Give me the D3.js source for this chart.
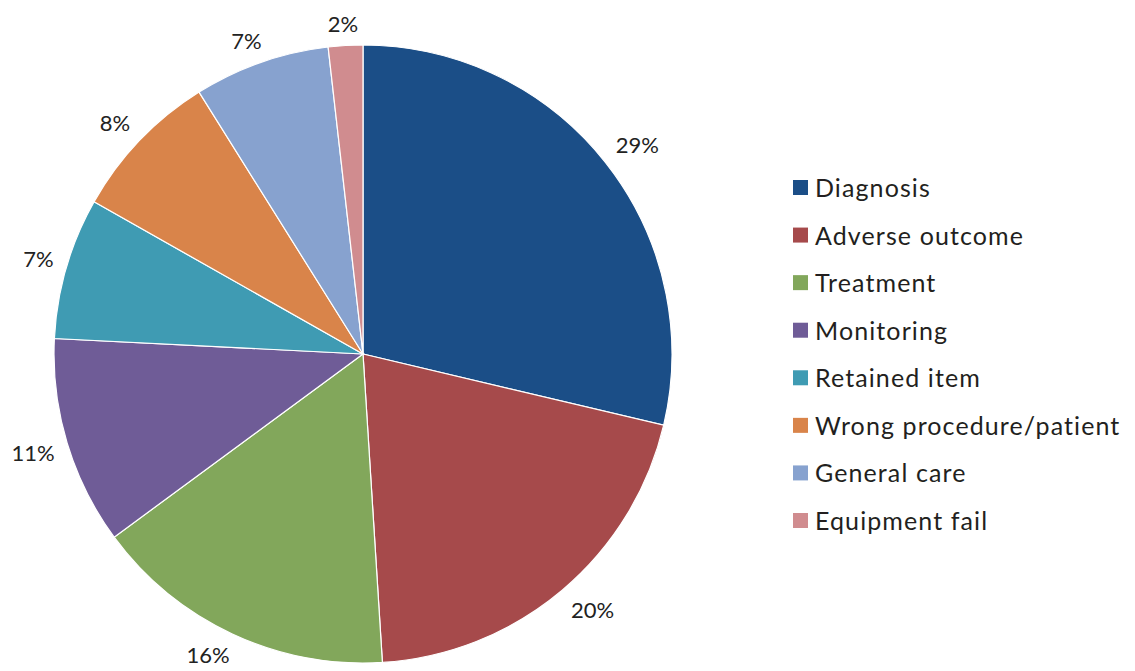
<!DOCTYPE html>
<html>
<head>
<meta charset="utf-8">
<script src="https://cdn.jsdelivr.net/npm/d3@7"></script>
<style>
  html, body { margin: 0; padding: 0; background: #fff; }
  svg { display: block; }
</style>
</head>
<body>
<svg id="chart" width="1135" height="671"></svg>
<script>
const categories = ["Diagnosis", "Adverse outcome", "Treatment", "Monitoring", "Retained item", "Wrong procedure/patient", "General care", "Equipment fail"];
const values = [28.7, 20.3, 15.9, 10.9, 7.4, 7.9, 7.1, 1.8];
const colors = ["#1B4E87", "#A64A4B", "#82A75B", "#6F5C97", "#3F9BB3", "#D9844A", "#87A2CF", "#D08C8F"];

const svg = d3.select("#chart");
const cx = 363, cy = 354, r = 309, anchorR = 321;

const pie = d3.pie().sort(null).value(d => d)(values);
const arc = d3.arc().innerRadius(0).outerRadius(r);

const g = svg.append("g").attr("transform", `translate(${cx},${cy})`);
g.selectAll("path").data(pie).enter().append("path")
  .attr("d", arc)
  .attr("fill", (d, i) => colors[i])
  .attr("stroke", "#fff")
  .attr("stroke-width", 1.2);

// Outside-end labels: the label box touches a point just outside the rim.
const clamp = v => Math.max(-1, Math.min(1, v));
const labels = g.selectAll("text.lbl").data(pie).enter().append("text")
  .attr("class", "lbl")
  .attr("text-anchor", "middle")
  .attr("dominant-baseline", "central")
  .attr("font-family", "Lato, 'Open Sans', sans-serif")
  .attr("font-size", 22)
  .attr("fill", "#222")
  .text(d => Math.round(d.data) + "%");
labels.each(function(d) {
  const bb = this.getBBox();
  const w = bb.width, h = 20;
  const a = (d.startAngle + d.endAngle) / 2;
  const s = Math.sin(a), c = Math.cos(a);
  const px = anchorR * s, py = -anchorR * c;
  const x = px + (w / 2 + 1) * clamp(s * 2);
  const y = py + (h / 2) * clamp(-c * 2);
  d3.select(this).attr("transform", `translate(${x},${y})`);
});

const color = d3.scaleOrdinal().domain(categories).range(colors);
const ly = d3.scalePoint().domain(categories).range([187, 520]);
const leg = svg.append("g");
const items = leg.selectAll("g").data(categories).enter().append("g")
  .attr("transform", d => `translate(793,${ly(d)})`);
items.append("rect").attr("x", 0).attr("y", -7).attr("width", 15).attr("height", 15)
  .attr("fill", d => color(d));
items.append("text").attr("x", 22).attr("y", 0)
  .attr("dominant-baseline", "central")
  .attr("font-family", "Lato, 'Noto Sans', sans-serif")
  .attr("font-size", 25)
  .attr("letter-spacing", 1.1)
  .attr("fill", "#231F20")
  .text(d => d);
</script>
</body>
</html>
